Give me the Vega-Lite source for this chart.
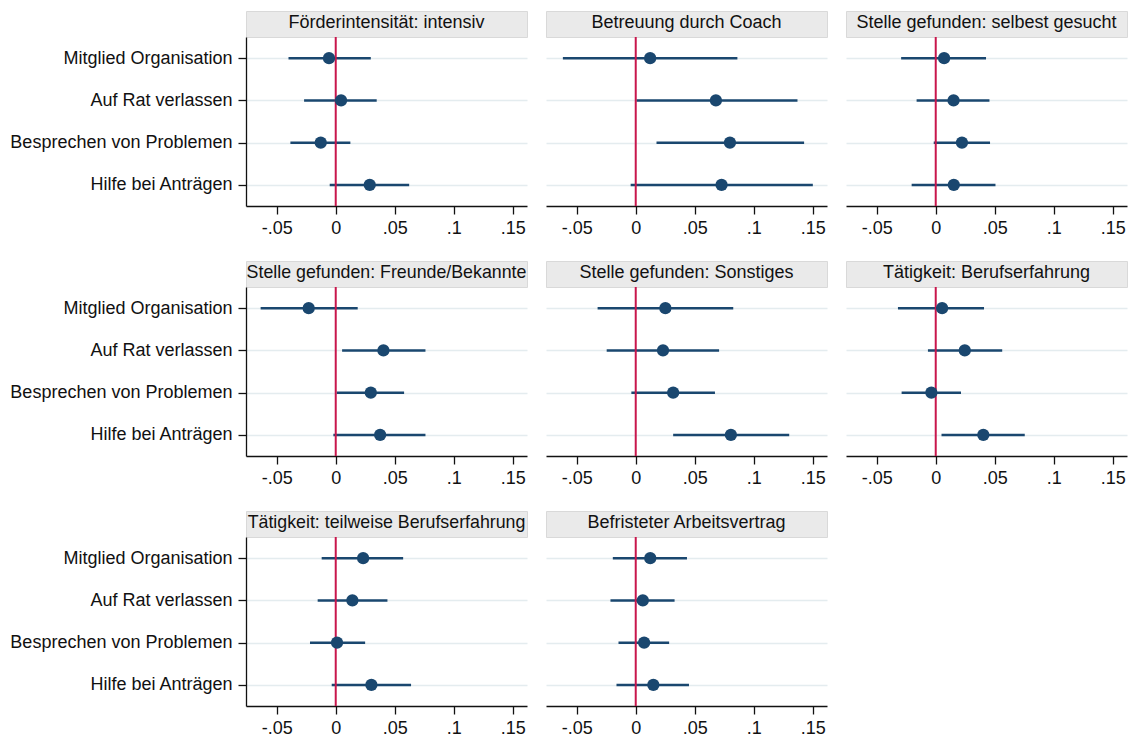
{
  "$schema": "https://vega.github.io/schema/vega-lite/v6.json",
  "background": "white",
  "padding": {"left": 9, "top": 10, "right": 2, "bottom": 2},
  "config": {
    "font": "Liberation Sans",
    "view": {"stroke": null},
    "axis": {"labelFont": "Liberation Sans", "labelFontSize": 18, "labelColor": "#111111", "domainColor": "#111111", "tickColor": "#111111", "tickSize": 8, "domainWidth": 1.3, "tickWidth": 1.3, "labelLimit": 400},
    "axisX": {"grid": false, "labelPadding": 5},
    "axisY": {"grid": true, "gridColor": "#e4ecef", "gridWidth": 1.5, "labelPadding": 6}
  },
  "datasets": {
    "coef": [
      {"panel": "P1", "item": "Mitglied Organisation", "est": -0.0057, "lo": -0.040, "hi": 0.0297},
      {"panel": "P1", "item": "Auf Rat verlassen", "est": 0.0045, "lo": -0.0268, "hi": 0.0347},
      {"panel": "P1", "item": "Besprechen von Problemen", "est": -0.0127, "lo": -0.0384, "hi": 0.0124},
      {"panel": "P1", "item": "Hilfe bei Anträgen", "est": 0.0288, "lo": -0.0051, "hi": 0.0622},
      {"panel": "P2", "item": "Mitglied Organisation", "est": 0.0122, "lo": -0.0617, "hi": 0.0861},
      {"panel": "P2", "item": "Auf Rat verlassen", "est": 0.0679, "lo": 0.0006, "hi": 0.137},
      {"panel": "P2", "item": "Besprechen von Problemen", "est": 0.0798, "lo": 0.0176, "hi": 0.1426},
      {"panel": "P2", "item": "Hilfe bei Anträgen", "est": 0.0727, "lo": -0.0043, "hi": 0.150},
      {"panel": "P3", "item": "Mitglied Organisation", "est": 0.0071, "lo": -0.0293, "hi": 0.0426},
      {"panel": "P3", "item": "Auf Rat verlassen", "est": 0.0151, "lo": -0.0162, "hi": 0.0455},
      {"panel": "P3", "item": "Besprechen von Problemen", "est": 0.0222, "lo": -0.0017, "hi": 0.046},
      {"panel": "P3", "item": "Hilfe bei Anträgen", "est": 0.0153, "lo": -0.0204, "hi": 0.0506},
      {"panel": "P4", "item": "Mitglied Organisation", "est": -0.0229, "lo": -0.0636, "hi": 0.0186},
      {"panel": "P4", "item": "Auf Rat verlassen", "est": 0.0404, "lo": 0.0054, "hi": 0.076},
      {"panel": "P4", "item": "Besprechen von Problemen", "est": 0.0297, "lo": 0.0008, "hi": 0.0579},
      {"panel": "P4", "item": "Hilfe bei Anträgen", "est": 0.0376, "lo": -0.002, "hi": 0.076},
      {"panel": "P5", "item": "Mitglied Organisation", "est": 0.0251, "lo": -0.0323, "hi": 0.0826},
      {"panel": "P5", "item": "Auf Rat verlassen", "est": 0.0231, "lo": -0.0246, "hi": 0.0706},
      {"panel": "P5", "item": "Besprechen von Problemen", "est": 0.0317, "lo": -0.0037, "hi": 0.0671},
      {"panel": "P5", "item": "Hilfe bei Anträgen", "est": 0.0806, "lo": 0.0317, "hi": 0.130},
      {"panel": "P6", "item": "Mitglied Organisation", "est": 0.0054, "lo": -0.032, "hi": 0.0409},
      {"panel": "P6", "item": "Auf Rat verlassen", "est": 0.0246, "lo": -0.0066, "hi": 0.0563},
      {"panel": "P6", "item": "Besprechen von Problemen", "est": -0.0037, "lo": -0.0289, "hi": 0.0214},
      {"panel": "P6", "item": "Hilfe bei Anträgen", "est": 0.0403, "lo": 0.0049, "hi": 0.0754},
      {"panel": "P7", "item": "Mitglied Organisation", "est": 0.0232, "lo": -0.0119, "hi": 0.0571},
      {"panel": "P7", "item": "Auf Rat verlassen", "est": 0.0141, "lo": -0.0153, "hi": 0.0438},
      {"panel": "P7", "item": "Besprechen von Problemen", "est": 0.0011, "lo": -0.0218, "hi": 0.0249},
      {"panel": "P7", "item": "Hilfe bei Anträgen", "est": 0.0302, "lo": -0.0034, "hi": 0.0638},
      {"panel": "P8", "item": "Mitglied Organisation", "est": 0.0123, "lo": -0.0194, "hi": 0.0434},
      {"panel": "P8", "item": "Auf Rat verlassen", "est": 0.006, "lo": -0.0214, "hi": 0.0329},
      {"panel": "P8", "item": "Besprechen von Problemen", "est": 0.0071, "lo": -0.0146, "hi": 0.0283},
      {"panel": "P8", "item": "Hilfe bei Anträgen", "est": 0.0149, "lo": -0.0163, "hi": 0.0451}
    ]
  },
  "columns": 3,
  "spacing": {"row": 23, "column": 17},
  "align": "each",
  "concat": [
    {"vconcat": [
      {"width": 281, "height": 26, "view": {"fill": "#eaeaea", "stroke": "#d9d9d9"}, "data": {"values": [{"t": "Förderintensität: intensiv"}]}, "mark": {"type": "text", "fontSize": 18, "color": "#111111", "dy": -1}, "encoding": {"text": {"field": "t"}}},
      {"width": 281, "height": 169, "data": {"name": "coef"}, "transform": [{"filter": {"field": "panel", "equal": "P1"}}],
       "layer": [
        {"mark": {"type": "rule", "color": "#1a476f", "strokeWidth": 2.5}, "encoding": {
          "y": {"field": "item", "type": "nominal", "title": null, "scale": {"type": "point", "padding": 0.5, "domain": ["Mitglied Organisation", "Auf Rat verlassen", "Besprechen von Problemen", "Hilfe bei Anträgen"]}},
          "x": {"field": "lo", "type": "quantitative", "title": null, "scale": {"domain": [-0.076, 0.162], "nice": false, "zero": false}, "axis": {"values": [-0.05, 0, 0.05, 0.1, 0.15], "labelExpr": "datum.value == 0 ? '0' : (datum.value < 0 ? '-' : '') + replace(format(abs(datum.value), '.2~f'), '0.', '.')"}},
          "x2": {"field": "hi"}}},
        {"data": {"values": [{"z": 0}]}, "mark": {"type": "rule", "color": "#c8164c", "strokeWidth": 2}, "encoding": {"x": {"field": "z", "type": "quantitative"}}},
        {"mark": {"type": "circle", "color": "#1a476f", "opacity": 1, "size": 150}, "encoding": {"x": {"field": "est", "type": "quantitative"}, "y": {"field": "item", "type": "nominal"}}}
       ]}
    ], "spacing": 0, "bounds": "flush"},
    {"vconcat": [
      {"width": 281, "height": 26, "view": {"fill": "#eaeaea", "stroke": "#d9d9d9"}, "data": {"values": [{"t": "Betreuung durch Coach"}]}, "mark": {"type": "text", "fontSize": 18, "color": "#111111", "dy": -1}, "encoding": {"text": {"field": "t"}}},
      {"width": 281, "height": 169, "data": {"name": "coef"}, "transform": [{"filter": {"field": "panel", "equal": "P2"}}],
       "layer": [
        {"mark": {"type": "rule", "color": "#1a476f", "strokeWidth": 2.5}, "encoding": {
          "y": {"field": "item", "type": "nominal", "title": null, "scale": {"type": "point", "padding": 0.5, "domain": ["Mitglied Organisation", "Auf Rat verlassen", "Besprechen von Problemen", "Hilfe bei Anträgen"]}, "axis": {"labels": false, "ticks": false, "domain": false}},
          "x": {"field": "lo", "type": "quantitative", "title": null, "scale": {"domain": [-0.076, 0.162], "nice": false, "zero": false}, "axis": {"values": [-0.05, 0, 0.05, 0.1, 0.15], "labelExpr": "datum.value == 0 ? '0' : (datum.value < 0 ? '-' : '') + replace(format(abs(datum.value), '.2~f'), '0.', '.')"}},
          "x2": {"field": "hi"}}},
        {"data": {"values": [{"z": 0}]}, "mark": {"type": "rule", "color": "#c8164c", "strokeWidth": 2}, "encoding": {"x": {"field": "z", "type": "quantitative"}}},
        {"mark": {"type": "circle", "color": "#1a476f", "opacity": 1, "size": 150}, "encoding": {"x": {"field": "est", "type": "quantitative"}, "y": {"field": "item", "type": "nominal"}}}
       ]}
    ], "spacing": 0, "bounds": "flush"},
    {"vconcat": [
      {"width": 281, "height": 26, "view": {"fill": "#eaeaea", "stroke": "#d9d9d9"}, "data": {"values": [{"t": "Stelle gefunden: selbest gesucht"}]}, "mark": {"type": "text", "fontSize": 18, "color": "#111111", "dy": -1}, "encoding": {"text": {"field": "t"}}},
      {"width": 281, "height": 169, "data": {"name": "coef"}, "transform": [{"filter": {"field": "panel", "equal": "P3"}}],
       "layer": [
        {"mark": {"type": "rule", "color": "#1a476f", "strokeWidth": 2.5}, "encoding": {
          "y": {"field": "item", "type": "nominal", "title": null, "scale": {"type": "point", "padding": 0.5, "domain": ["Mitglied Organisation", "Auf Rat verlassen", "Besprechen von Problemen", "Hilfe bei Anträgen"]}, "axis": {"labels": false, "ticks": false, "domain": false}},
          "x": {"field": "lo", "type": "quantitative", "title": null, "scale": {"domain": [-0.076, 0.162], "nice": false, "zero": false}, "axis": {"values": [-0.05, 0, 0.05, 0.1, 0.15], "labelExpr": "datum.value == 0 ? '0' : (datum.value < 0 ? '-' : '') + replace(format(abs(datum.value), '.2~f'), '0.', '.')"}},
          "x2": {"field": "hi"}}},
        {"data": {"values": [{"z": 0}]}, "mark": {"type": "rule", "color": "#c8164c", "strokeWidth": 2}, "encoding": {"x": {"field": "z", "type": "quantitative"}}},
        {"mark": {"type": "circle", "color": "#1a476f", "opacity": 1, "size": 150}, "encoding": {"x": {"field": "est", "type": "quantitative"}, "y": {"field": "item", "type": "nominal"}}}
       ]}
    ], "spacing": 0, "bounds": "flush"},
    {"vconcat": [
      {"width": 281, "height": 26, "view": {"fill": "#eaeaea", "stroke": "#d9d9d9"}, "data": {"values": [{"t": "Stelle gefunden: Freunde/Bekannte"}]}, "mark": {"type": "text", "fontSize": 17.8, "color": "#111111", "dy": -1}, "encoding": {"text": {"field": "t"}}},
      {"width": 281, "height": 169, "data": {"name": "coef"}, "transform": [{"filter": {"field": "panel", "equal": "P4"}}],
       "layer": [
        {"mark": {"type": "rule", "color": "#1a476f", "strokeWidth": 2.5}, "encoding": {
          "y": {"field": "item", "type": "nominal", "title": null, "scale": {"type": "point", "padding": 0.5, "domain": ["Mitglied Organisation", "Auf Rat verlassen", "Besprechen von Problemen", "Hilfe bei Anträgen"]}},
          "x": {"field": "lo", "type": "quantitative", "title": null, "scale": {"domain": [-0.076, 0.162], "nice": false, "zero": false}, "axis": {"values": [-0.05, 0, 0.05, 0.1, 0.15], "labelExpr": "datum.value == 0 ? '0' : (datum.value < 0 ? '-' : '') + replace(format(abs(datum.value), '.2~f'), '0.', '.')"}},
          "x2": {"field": "hi"}}},
        {"data": {"values": [{"z": 0}]}, "mark": {"type": "rule", "color": "#c8164c", "strokeWidth": 2}, "encoding": {"x": {"field": "z", "type": "quantitative"}}},
        {"mark": {"type": "circle", "color": "#1a476f", "opacity": 1, "size": 150}, "encoding": {"x": {"field": "est", "type": "quantitative"}, "y": {"field": "item", "type": "nominal"}}}
       ]}
    ], "spacing": 0, "bounds": "flush"},
    {"vconcat": [
      {"width": 281, "height": 26, "view": {"fill": "#eaeaea", "stroke": "#d9d9d9"}, "data": {"values": [{"t": "Stelle gefunden: Sonstiges"}]}, "mark": {"type": "text", "fontSize": 18, "color": "#111111", "dy": -1}, "encoding": {"text": {"field": "t"}}},
      {"width": 281, "height": 169, "data": {"name": "coef"}, "transform": [{"filter": {"field": "panel", "equal": "P5"}}],
       "layer": [
        {"mark": {"type": "rule", "color": "#1a476f", "strokeWidth": 2.5}, "encoding": {
          "y": {"field": "item", "type": "nominal", "title": null, "scale": {"type": "point", "padding": 0.5, "domain": ["Mitglied Organisation", "Auf Rat verlassen", "Besprechen von Problemen", "Hilfe bei Anträgen"]}, "axis": {"labels": false, "ticks": false, "domain": false}},
          "x": {"field": "lo", "type": "quantitative", "title": null, "scale": {"domain": [-0.076, 0.162], "nice": false, "zero": false}, "axis": {"values": [-0.05, 0, 0.05, 0.1, 0.15], "labelExpr": "datum.value == 0 ? '0' : (datum.value < 0 ? '-' : '') + replace(format(abs(datum.value), '.2~f'), '0.', '.')"}},
          "x2": {"field": "hi"}}},
        {"data": {"values": [{"z": 0}]}, "mark": {"type": "rule", "color": "#c8164c", "strokeWidth": 2}, "encoding": {"x": {"field": "z", "type": "quantitative"}}},
        {"mark": {"type": "circle", "color": "#1a476f", "opacity": 1, "size": 150}, "encoding": {"x": {"field": "est", "type": "quantitative"}, "y": {"field": "item", "type": "nominal"}}}
       ]}
    ], "spacing": 0, "bounds": "flush"},
    {"vconcat": [
      {"width": 281, "height": 26, "view": {"fill": "#eaeaea", "stroke": "#d9d9d9"}, "data": {"values": [{"t": "Tätigkeit: Berufserfahrung"}]}, "mark": {"type": "text", "fontSize": 18, "color": "#111111", "dy": -1}, "encoding": {"text": {"field": "t"}}},
      {"width": 281, "height": 169, "data": {"name": "coef"}, "transform": [{"filter": {"field": "panel", "equal": "P6"}}],
       "layer": [
        {"mark": {"type": "rule", "color": "#1a476f", "strokeWidth": 2.5}, "encoding": {
          "y": {"field": "item", "type": "nominal", "title": null, "scale": {"type": "point", "padding": 0.5, "domain": ["Mitglied Organisation", "Auf Rat verlassen", "Besprechen von Problemen", "Hilfe bei Anträgen"]}, "axis": {"labels": false, "ticks": false, "domain": false}},
          "x": {"field": "lo", "type": "quantitative", "title": null, "scale": {"domain": [-0.076, 0.162], "nice": false, "zero": false}, "axis": {"values": [-0.05, 0, 0.05, 0.1, 0.15], "labelExpr": "datum.value == 0 ? '0' : (datum.value < 0 ? '-' : '') + replace(format(abs(datum.value), '.2~f'), '0.', '.')"}},
          "x2": {"field": "hi"}}},
        {"data": {"values": [{"z": 0}]}, "mark": {"type": "rule", "color": "#c8164c", "strokeWidth": 2}, "encoding": {"x": {"field": "z", "type": "quantitative"}}},
        {"mark": {"type": "circle", "color": "#1a476f", "opacity": 1, "size": 150}, "encoding": {"x": {"field": "est", "type": "quantitative"}, "y": {"field": "item", "type": "nominal"}}}
       ]}
    ], "spacing": 0, "bounds": "flush"},
    {"vconcat": [
      {"width": 281, "height": 26, "view": {"fill": "#eaeaea", "stroke": "#d9d9d9"}, "data": {"values": [{"t": "Tätigkeit: teilweise Berufserfahrung"}]}, "mark": {"type": "text", "fontSize": 17.8, "color": "#111111", "dy": -1}, "encoding": {"text": {"field": "t"}}},
      {"width": 281, "height": 169, "data": {"name": "coef"}, "transform": [{"filter": {"field": "panel", "equal": "P7"}}],
       "layer": [
        {"mark": {"type": "rule", "color": "#1a476f", "strokeWidth": 2.5}, "encoding": {
          "y": {"field": "item", "type": "nominal", "title": null, "scale": {"type": "point", "padding": 0.5, "domain": ["Mitglied Organisation", "Auf Rat verlassen", "Besprechen von Problemen", "Hilfe bei Anträgen"]}},
          "x": {"field": "lo", "type": "quantitative", "title": null, "scale": {"domain": [-0.076, 0.162], "nice": false, "zero": false}, "axis": {"values": [-0.05, 0, 0.05, 0.1, 0.15], "labelExpr": "datum.value == 0 ? '0' : (datum.value < 0 ? '-' : '') + replace(format(abs(datum.value), '.2~f'), '0.', '.')"}},
          "x2": {"field": "hi"}}},
        {"data": {"values": [{"z": 0}]}, "mark": {"type": "rule", "color": "#c8164c", "strokeWidth": 2}, "encoding": {"x": {"field": "z", "type": "quantitative"}}},
        {"mark": {"type": "circle", "color": "#1a476f", "opacity": 1, "size": 150}, "encoding": {"x": {"field": "est", "type": "quantitative"}, "y": {"field": "item", "type": "nominal"}}}
       ]}
    ], "spacing": 0, "bounds": "flush"},
    {"vconcat": [
      {"width": 281, "height": 26, "view": {"fill": "#eaeaea", "stroke": "#d9d9d9"}, "data": {"values": [{"t": "Befristeter Arbeitsvertrag"}]}, "mark": {"type": "text", "fontSize": 18, "color": "#111111", "dy": -1}, "encoding": {"text": {"field": "t"}}},
      {"width": 281, "height": 169, "data": {"name": "coef"}, "transform": [{"filter": {"field": "panel", "equal": "P8"}}],
       "layer": [
        {"mark": {"type": "rule", "color": "#1a476f", "strokeWidth": 2.5}, "encoding": {
          "y": {"field": "item", "type": "nominal", "title": null, "scale": {"type": "point", "padding": 0.5, "domain": ["Mitglied Organisation", "Auf Rat verlassen", "Besprechen von Problemen", "Hilfe bei Anträgen"]}, "axis": {"labels": false, "ticks": false, "domain": false}},
          "x": {"field": "lo", "type": "quantitative", "title": null, "scale": {"domain": [-0.076, 0.162], "nice": false, "zero": false}, "axis": {"values": [-0.05, 0, 0.05, 0.1, 0.15], "labelExpr": "datum.value == 0 ? '0' : (datum.value < 0 ? '-' : '') + replace(format(abs(datum.value), '.2~f'), '0.', '.')"}},
          "x2": {"field": "hi"}}},
        {"data": {"values": [{"z": 0}]}, "mark": {"type": "rule", "color": "#c8164c", "strokeWidth": 2}, "encoding": {"x": {"field": "z", "type": "quantitative"}}},
        {"mark": {"type": "circle", "color": "#1a476f", "opacity": 1, "size": 150}, "encoding": {"x": {"field": "est", "type": "quantitative"}, "y": {"field": "item", "type": "nominal"}}}
       ]}
    ], "spacing": 0, "bounds": "flush"}
  ]
}
